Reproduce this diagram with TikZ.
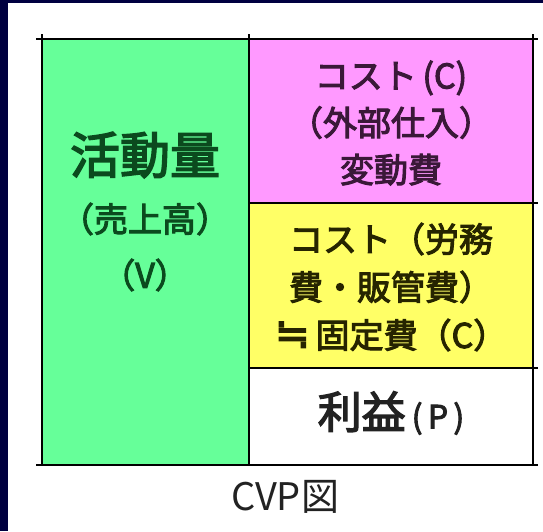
\documentclass[tikz,border=0pt]{standalone}
\usepackage{fontspec}
\setmainfont{Noto Sans CJK JP}[BoldFont=Noto Sans CJK JP, BoldFeatures={FakeBold=3}]
\newfontfamily\symfont{DejaVu Sans}[BoldFont=DejaVu Sans, BoldFeatures={FakeBold=3}]
\definecolor{navy}{HTML}{000040}
\definecolor{cgreen}{HTML}{66FF99}
\definecolor{cpink}{HTML}{FF99FF}
\definecolor{cyellow}{HTML}{FFFF66}
\definecolor{tgreen}{HTML}{0B4A1E}
\definecolor{tpink}{HTML}{3A1838}
\definecolor{tyellow}{HTML}{262400}
\definecolor{tgray}{HTML}{222222}
\begin{document}
\begin{tikzpicture}[x={(1pt,0)}, y={(0,-1pt)},
  gridline/.style={line width=2.2pt, black},
  celltext/.style={inner sep=0pt, align=center},
]
\useasboundingbox (0,0) rectangle (543,531);
\fill[white] (0,0) rectangle (543,531);
\fill[navy] (0,0) rectangle (7.5,531);
\fill[navy] (0,0) rectangle (543,3);
% cells
\fill[cgreen] (42,39) rectangle (249,465);
\fill[cpink] (249,39) rectangle (533,203);
\fill[cyellow] (249,203) rectangle (533,368);
% lines
\draw[gridline] (36,39) -- (538,39);
\draw[gridline] (36,465) -- (538,465);
\draw[gridline] (42,34) -- (42,465);
\draw[gridline] (249,34) -- (249,465);
\draw[gridline] (533,34) -- (533,465);
\draw[gridline] (249,203) -- (538,203);
\draw[gridline] (249,368) -- (538,368);
% green text
\node[celltext, text=tgreen, font=\bfseries\fontsize{50}{56}\selectfont] (vol) at (145,155) {活動量};
\node[celltext, text=tgreen, font=\bfseries\fontsize{34}{40}\selectfont] (sales) at (145,219) {（売上高）};
\node[celltext, text=tgreen, font=\bfseries\fontsize{34}{40}\selectfont] (v) at (145,275) {（V）};
% pink text
\node[celltext, text=tpink, font=\bfseries\fontsize{34}{47}\selectfont] (varcost) at (391,123) {コスト\,(C)\\（外部仕入）\\変動費};
% yellow text
\node[celltext, text=tyellow, font=\bfseries\fontsize{34}{48}\selectfont] (fixcost) at (391,287) {コスト（労務\\費・販管費）\\{\symfont\bfseries\fontsize{42}{48}\selectfont ≒}\,固定費（C）};
% white text
\node[celltext, text=tgray] (profit) at (391,413) {\bfseries\fontsize{44}{50}\selectfont 利益\fontsize{32}{36}\selectfont\hspace{6pt}(\,P\,)};
% caption
\node[celltext, text=tgray, font=\fontsize{38}{44}\selectfont] (cap) at (285,497) {CVP図};
\end{tikzpicture}
\end{document}
